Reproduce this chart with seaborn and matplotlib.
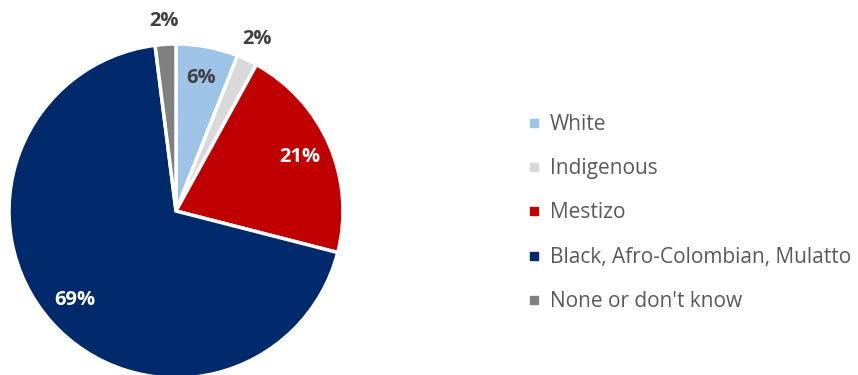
import numpy as np
import matplotlib
matplotlib.use("Agg")
import matplotlib.pyplot as plt
from matplotlib.lines import Line2D
import seaborn as sns

categories = ["White", "Indigenous", "Mestizo", "Black, Afro-Colombian, Mulatto", "None or don't know"]
values = [6, 2, 21, 69, 2]
colors = ["#9DC3E6", "#D9D9D9", "#C00000", "#002A6C", "#808080"]
label_colors = ["#404040", "#404040", "white", "white", "#404040"]

sns.set_theme(style="white")
plt.rcParams['font.family'] = ['Open Sans', 'DejaVu Sans']

W, H = 858, 375
fig = plt.figure(figsize=(W / 100, H / 100), dpi=100)
cx, cy, r = 176, 211, 167
ax = fig.add_axes([(cx - r) / W, (H - cy - r) / H, 2 * r / W, 2 * r / H])

wedges, texts, autotexts = ax.pie(
    values, colors=colors, startangle=90, counterclock=False,
    autopct=lambda p: f"{p:.0f}%", pctdistance=0.81,
    wedgeprops=dict(edgecolor="white", linewidth=2.5),
    textprops=dict(fontsize=14.5, fontweight="bold"))
ax.set_xlim(-1, 1)
ax.set_ylim(-1, 1)
ax.set_aspect("equal")
ax.axis("off")

for w, t, v, c in zip(wedges, autotexts, values, label_colors):
    t.set_color(c)
    if v < 5:
        ang = np.deg2rad((w.theta1 + w.theta2) / 2)
        t.set_position((1.14 * np.cos(ang), 1.14 * np.sin(ang)))

handles = [Line2D([0], [0], marker="s", linestyle="none", markersize=6,
                  markerfacecolor=c, markeredgecolor=c) for c in colors]
fig.legend(handles, categories, loc="center left",
           bbox_to_anchor=(507 / W, 1 - 213 / H), frameon=False,
           fontsize=15, labelspacing=1.12, handlelength=0.8,
           handletextpad=0.35, labelcolor="#595959")

fig.savefig("out.png", dpi=100)
